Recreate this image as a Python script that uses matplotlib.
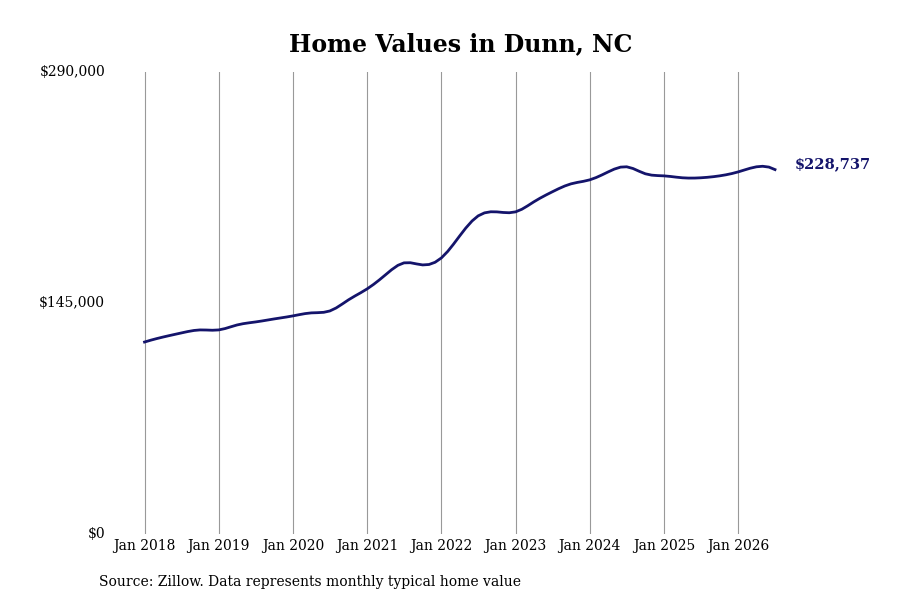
import matplotlib
matplotlib.use("Agg")
import matplotlib.pyplot as plt
import pandas as pd

plt.rcParams['font.family'] = ['DejaVu Serif']

# quarterly readings of the typical home value
dates = pd.date_range("2018-01-01", "2026-07-01", freq="QS")
values = [120500, 123600, 126200, 128100, 128100, 131200, 133100, 135000,
          136900, 138800, 140000, 147000, 153900, 162700, 170200, 168900,
          173300, 187100, 199700, 202200, 202200, 208500, 214800, 219800,
          222300, 227300, 230500, 226100, 224800, 223600, 223600, 224800,
          227300, 230500, 228737]
ytick_vals = [0, 145000, 290000]
ytick_labels = ["$0", "$145,000", "$290,000"]
xtick_years = list(range(2018, 2027))

navy = "#14146b"
fig = plt.figure(figsize=(9, 6), dpi=100)
ax = fig.add_axes([110 / 900, 66 / 600, 690 / 900, 462 / 600])

s = pd.Series(values, index=dates).resample("MS").interpolate("cubic")
ax.plot(s.index, s.values, color=navy, lw=2)

xt = [pd.Timestamp(f"{y}-01-01") for y in xtick_years]
ax.set_xticks(xt)
ax.set_xticklabels([f"Jan {y}" for y in xtick_years], fontsize=10)
ax.set_xlim(pd.Timestamp("2017-07-15"), pd.Timestamp("2026-11-01"))
ax.set_ylim(0, 290000)
ax.set_yticks(ytick_vals)
ax.set_yticklabels(ytick_labels, fontsize=10)
for t in ax.get_yticklabels():
    t.set_verticalalignment("center")
ax.tick_params(length=0)
ax.grid(axis="x", color="#999999", lw=0.8)
for sp in ax.spines.values():
    sp.set_visible(False)

ax.annotate(f"${values[-1]:,}", (s.index[-1], s.values[-1]), xytext=(14, 4),
            textcoords="offset points", color=navy, fontsize=10.5,
            fontweight="bold", va="center", annotation_clip=False)

fig.text(0.512, 0.927, "Home Values in Dunn, NC", ha="center", va="center",
         fontsize=17, fontweight="bold")
fig.text(99 / 900, 1 - 582 / 600, "Source: Zillow. Data represents monthly typical home value",
         ha="left", va="center", fontsize=10)

fig.savefig("out.png")
